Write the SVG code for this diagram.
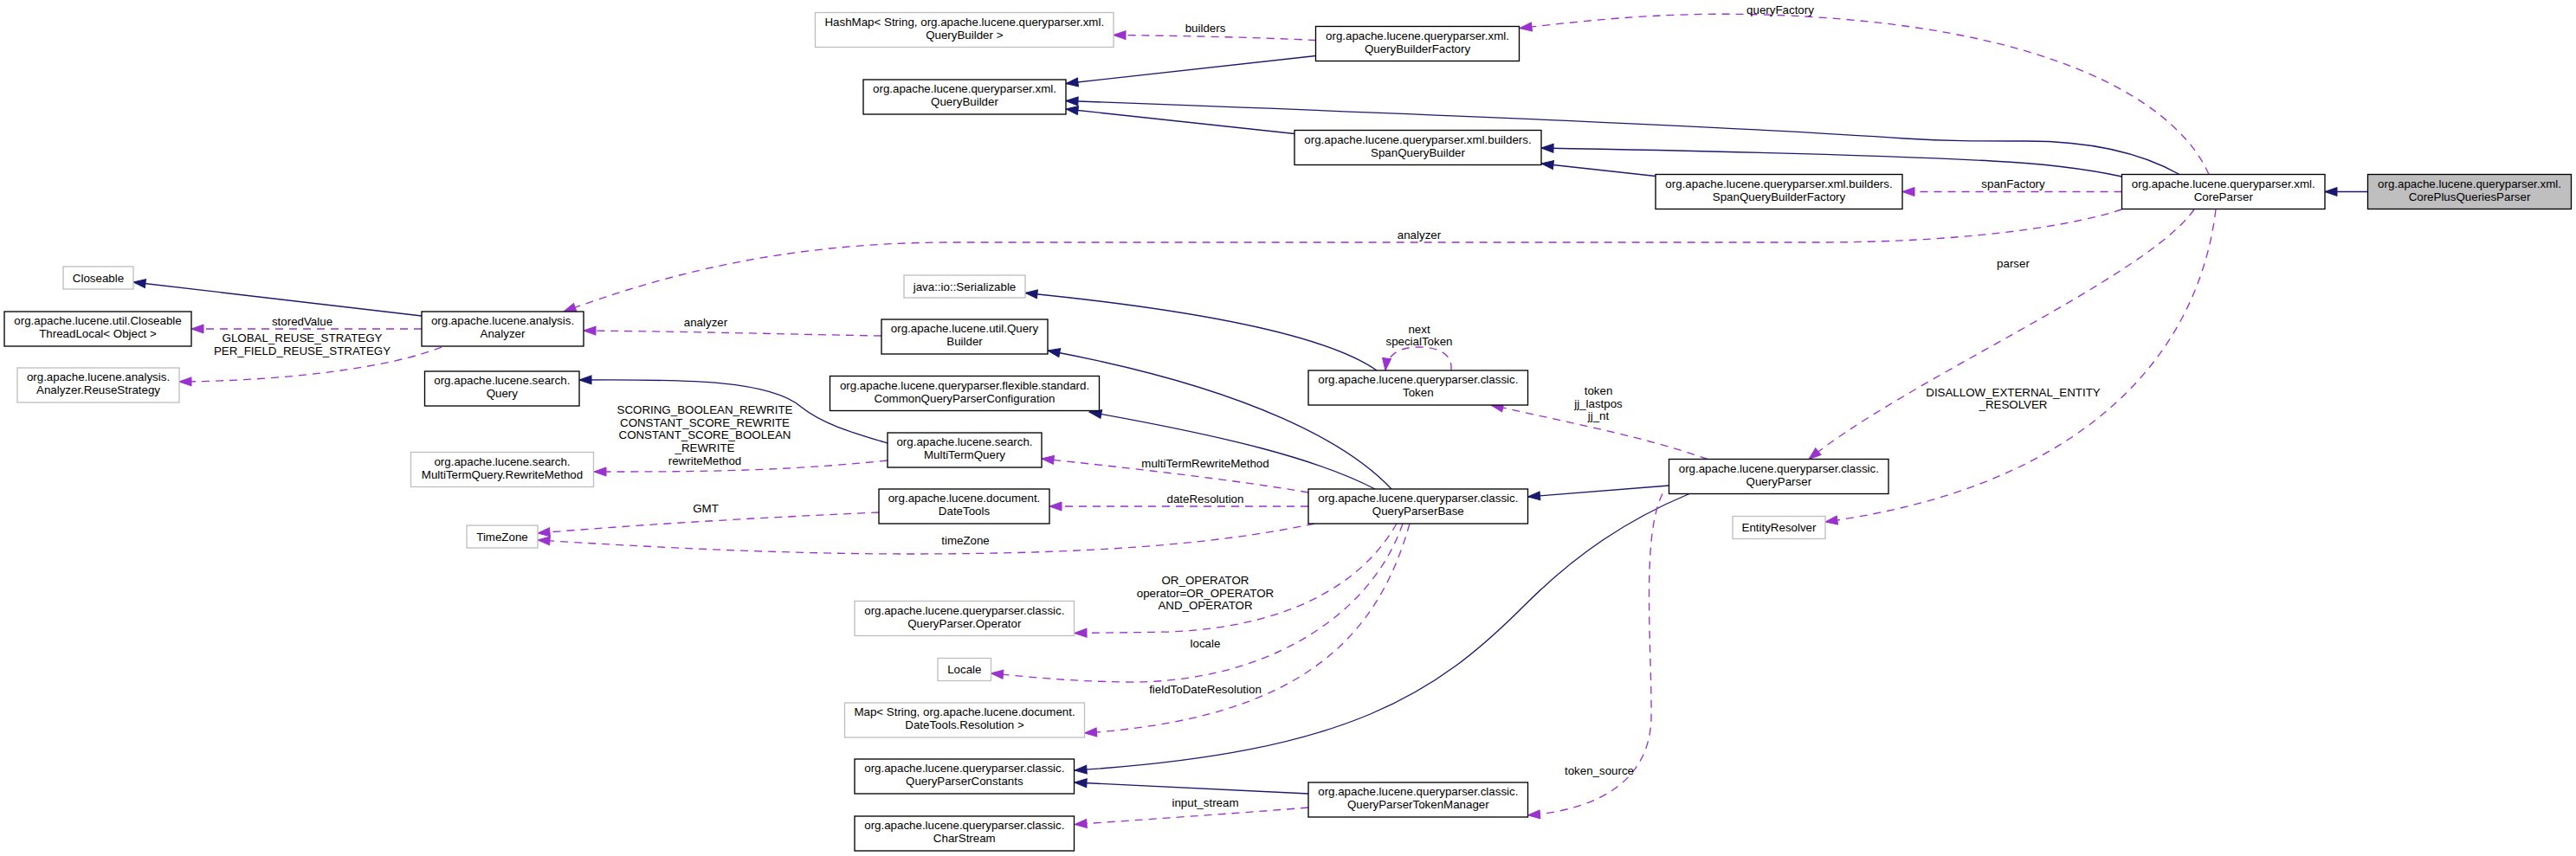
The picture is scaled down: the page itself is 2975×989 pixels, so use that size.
<svg xmlns="http://www.w3.org/2000/svg" width="2975" height="989" viewBox="0 0 2975 989">
<style>
text{font-family:"Liberation Sans",Arial,Helvetica,sans-serif;font-size:13.33px;fill:#000;text-anchor:middle}
.n rect{fill:#fff;stroke:#000;stroke-width:1.33}
.n.g rect{stroke:#bfbfbf}
.n.h rect{fill:#bfbfbf}
.e path{fill:none;stroke-width:1.33}
.i{stroke:#191970;marker-end:url(#ai)}
.u{stroke:#9a32cd;stroke-dasharray:9,7;marker-end:url(#au)}
</style>
<defs>
<marker id="ai" markerUnits="userSpaceOnUse" markerWidth="16" markerHeight="12" viewBox="-1 -1 16 12" refX="14" refY="5" orient="auto"><polygon points="0,0 14,5 0,10" fill="#191970" stroke="#191970" stroke-width="1"/></marker>
<marker id="au" markerUnits="userSpaceOnUse" markerWidth="16" markerHeight="12" viewBox="-1 -1 16 12" refX="14" refY="5" orient="auto"><polygon points="0,0 14,5 0,10" fill="#9a32cd" stroke="#9a32cd" stroke-width="1"/></marker>
</defs>
<rect width="2975" height="989" fill="#fff"/>
<g id="edges" class="e">
<path class="i" d="M2734,221.5 L2685,221.5"/>
<path class="i" d="M2517,201.5 C2470,175 2410,163 2340,163 C2280,163 2250,163 2200,160 C2000,146 1600,130 1231,116.5"/>
<path class="i" d="M2450.5,204 C2400,193 2340,188 2300,186 C2150,178 1950,174 1780,171"/>
<path class="i" d="M1912,203.5 L1780,189"/>
<path class="i" d="M1495,154.5 L1231,126"/>
<path class="i" d="M1519.5,64.5 L1231,96.5"/>
<path class="i" d="M487,365 L154,326"/>
<path class="i" d="M1590,428 C1550,400 1450,365 1184,338.5"/>
<path class="i" d="M1607,565 C1560,515 1450,450 1210,405"/>
<path class="i" d="M1588,565 C1520,530 1420,505 1258,476"/>
<path class="i" d="M1025,512 C985,500 950,490 925,470 C890,440 800,438 669,439"/>
<path class="i" d="M1927.5,561 L1764.5,574"/>
<path class="i" d="M1951,570.5 C1880,600 1820,640 1760,700 C1660,800 1560,870 1241,890"/>
<path class="i" d="M1511,917 L1241,904"/>
<path class="u" d="M1519.5,46.5 C1450,43 1350,41 1286,40.5"/>
<path class="u" d="M2551,201.5 C2520,130 2400,40 2100,20 C1950,10 1850,22 1755,32.5"/>
<path class="u" d="M2450.5,221.5 L2197,221.5"/>
<path class="u" d="M2450.5,242 C2380,265 2250,280 2100,280 L1100,280 C900,280 760,320 651,360"/>
<path class="u" d="M1018,388 C900,386 800,383 674,382"/>
<path class="u" d="M487,380 L221,380"/>
<path class="u" d="M510,401 C450,425 330,440 207,441"/>
<path class="u" d="M1676,428 C1678,408 1660,401 1638,401 C1615,401 1602,410 1600,428"/>
<path class="u" d="M1972,530.5 C1900,505 1820,490 1722,468"/>
<path class="u" d="M2534,242 C2480,320 2200,440 2089,530.5"/>
<path class="u" d="M2559,242 C2540,400 2420,560 2108,603"/>
<path class="u" d="M1920,570.5 C1895,620 1908,750 1907,830 C1905,900 1850,935 1764.5,942"/>
<path class="u" d="M1511,569 C1430,555 1300,540 1203,530"/>
<path class="u" d="M1511,585 L1212,585"/>
<path class="u" d="M1518,605 C1400,630 1250,640 1050,640 C900,640 750,632 621,624"/>
<path class="u" d="M1015,592 C900,597 750,605 621,616"/>
<path class="u" d="M1025,532 C900,545 800,545 686,545"/>
<path class="u" d="M1613,605 C1570,680 1480,725 1350,730 C1300,731 1270,731 1241,731.5"/>
<path class="u" d="M1620,605 C1580,720 1450,790 1300,788 C1230,787 1190,782 1144.5,778"/>
<path class="u" d="M1628,605 C1590,740 1500,830 1252.5,847"/>
<path class="u" d="M1511,933 C1450,938 1350,945 1241,952.5"/>
<text x="1392" y="37">builders</text>
<text x="2056" y="16">queryFactory</text>
<text x="2325" y="217">spanFactory</text>
<text x="1639" y="276">analyzer</text>
<text x="2325" y="309">parser</text>
<text x="2325" y="458">DISALLOW_EXTERNAL_ENTITY</text>
<text x="2325" y="472">_RESOLVER</text>
<text x="349" y="376">storedValue</text>
<text x="349" y="395">GLOBAL_REUSE_STRATEGY</text>
<text x="349" y="410">PER_FIELD_REUSE_STRATEGY</text>
<text x="815" y="377">analyzer</text>
<text x="1639" y="385">next</text>
<text x="1639" y="399">specialToken</text>
<text x="1846" y="456">token</text>
<text x="1846" y="471">jj_lastpos</text>
<text x="1846" y="485">jj_nt</text>
<text x="814" y="478">SCORING_BOOLEAN_REWRITE</text>
<text x="814" y="492.7">CONSTANT_SCORE_REWRITE</text>
<text x="814" y="507.3">CONSTANT_SCORE_BOOLEAN</text>
<text x="814" y="522">_REWRITE</text>
<text x="814" y="536.7">rewriteMethod</text>
<text x="1392" y="540">multiTermRewriteMethod</text>
<text x="1392" y="580.7">dateResolution</text>
<text x="815" y="592">GMT</text>
<text x="1115" y="629">timeZone</text>
<text x="1392" y="675">OR_OPERATOR</text>
<text x="1392" y="689.7">operator=OR_OPERATOR</text>
<text x="1392" y="704.3">AND_OPERATOR</text>
<text x="1392" y="748">locale</text>
<text x="1392" y="801">fieldToDateResolution</text>
<text x="1847" y="895">token_source</text>
<text x="1392" y="932">input_stream</text>
</g>
<g id="n_corePlusQueriesParser" class="n h"><rect x="2734.5" y="201.5" width="235" height="40"/><text x="2852" y="216.5">org.apache.lucene.queryparser.xml.</text><text x="2852" y="231.5">CorePlusQueriesParser</text></g>
<g id="n_coreParser" class="n"><rect x="2450.5" y="201.5" width="234.5" height="40"/><text x="2567.8" y="216.5">org.apache.lucene.queryparser.xml.</text><text x="2567.8" y="231.5">CoreParser</text></g>
<g id="n_queryBuilderFactory" class="n"><rect x="1519.5" y="30.5" width="235" height="40"/><text x="1637" y="45.5">org.apache.lucene.queryparser.xml.</text><text x="1637" y="60.5">QueryBuilderFactory</text></g>
<g id="n_hashMap" class="n g"><rect x="941.5" y="14.5" width="344.5" height="40"/><text x="1113.8" y="29.5">HashMap&lt; String, org.apache.lucene.queryparser.xml.</text><text x="1113.8" y="44.5">QueryBuilder &gt;</text></g>
<g id="n_queryBuilder" class="n"><rect x="997" y="92" width="234" height="40"/><text x="1114" y="107">org.apache.lucene.queryparser.xml.</text><text x="1114" y="122">QueryBuilder</text></g>
<g id="n_spanQueryBuilder" class="n"><rect x="1495" y="150.5" width="285" height="40"/><text x="1637.5" y="165.5">org.apache.lucene.queryparser.xml.builders.</text><text x="1637.5" y="180.5">SpanQueryBuilder</text></g>
<g id="n_spanQueryBuilderFactory" class="n"><rect x="1912" y="201.5" width="285" height="40"/><text x="2054.5" y="216.5">org.apache.lucene.queryparser.xml.builders.</text><text x="2054.5" y="231.5">SpanQueryBuilderFactory</text></g>
<g id="n_analyzer" class="n"><rect x="487" y="360" width="187" height="40"/><text x="580.5" y="375">org.apache.lucene.analysis.</text><text x="580.5" y="390">Analyzer</text></g>
<g id="n_closeable" class="n g"><rect x="73" y="308" width="81" height="26"/><text x="113.5" y="325.5">Closeable</text></g>
<g id="n_closeableThreadLocal" class="n"><rect x="5" y="360" width="216" height="40"/><text x="113" y="375">org.apache.lucene.util.Closeable</text><text x="113" y="390">ThreadLocal&lt; Object &gt;</text></g>
<g id="n_reuseStrategy" class="n g"><rect x="20" y="425" width="187" height="40"/><text x="113.5" y="440">org.apache.lucene.analysis.</text><text x="113.5" y="455">Analyzer.ReuseStrategy</text></g>
<g id="n_searchQuery" class="n"><rect x="490.5" y="429" width="178.5" height="40"/><text x="579.8" y="444">org.apache.lucene.search.</text><text x="579.8" y="459">Query</text></g>
<g id="n_serializable" class="n g"><rect x="1044" y="318" width="140" height="26"/><text x="1114" y="335.5">java::io::Serializable</text></g>
<g id="n_utilQueryBuilder" class="n"><rect x="1018" y="369" width="192" height="40"/><text x="1114" y="384">org.apache.lucene.util.Query</text><text x="1114" y="399">Builder</text></g>
<g id="n_commonQPConfig" class="n"><rect x="958.5" y="434.5" width="311" height="40"/><text x="1114" y="449.5">org.apache.lucene.queryparser.flexible.standard.</text><text x="1114" y="464.5">CommonQueryParserConfiguration</text></g>
<g id="n_token" class="n"><rect x="1511" y="428" width="253.5" height="40"/><text x="1637.8" y="443">org.apache.lucene.queryparser.classic.</text><text x="1637.8" y="458">Token</text></g>
<g id="n_multiTermQuery" class="n"><rect x="1025" y="500" width="178" height="40"/><text x="1114" y="515">org.apache.lucene.search.</text><text x="1114" y="530">MultiTermQuery</text></g>
<g id="n_rewriteMethod" class="n g"><rect x="474.5" y="522.5" width="211" height="40"/><text x="580" y="537.5">org.apache.lucene.search.</text><text x="580" y="552.5">MultiTermQuery.RewriteMethod</text></g>
<g id="n_dateTools" class="n"><rect x="1015" y="565" width="197" height="40"/><text x="1113.5" y="580">org.apache.lucene.document.</text><text x="1113.5" y="595">DateTools</text></g>
<g id="n_queryParserBase" class="n"><rect x="1511" y="565" width="253.5" height="40"/><text x="1637.8" y="580">org.apache.lucene.queryparser.classic.</text><text x="1637.8" y="595">QueryParserBase</text></g>
<g id="n_timeZone" class="n g"><rect x="539" y="607" width="82" height="26"/><text x="580" y="624.5">TimeZone</text></g>
<g id="n_queryParser" class="n"><rect x="1927.5" y="530.5" width="253.5" height="40"/><text x="2054.3" y="545.5">org.apache.lucene.queryparser.classic.</text><text x="2054.3" y="560.5">QueryParser</text></g>
<g id="n_entityResolver" class="n g"><rect x="2001" y="596.5" width="107" height="26"/><text x="2054.5" y="614">EntityResolver</text></g>
<g id="n_operator" class="n g"><rect x="987" y="694.5" width="253.5" height="40"/><text x="1113.8" y="709.5">org.apache.lucene.queryparser.classic.</text><text x="1113.8" y="724.5">QueryParser.Operator</text></g>
<g id="n_locale" class="n g"><rect x="1083" y="760.5" width="61.5" height="26"/><text x="1113.8" y="778">Locale</text></g>
<g id="n_map" class="n g"><rect x="975.5" y="812" width="277" height="40"/><text x="1114" y="827">Map&lt; String, org.apache.lucene.document.</text><text x="1114" y="842">DateTools.Resolution &gt;</text></g>
<g id="n_queryParserConstants" class="n"><rect x="987" y="877" width="253.5" height="40"/><text x="1113.8" y="892">org.apache.lucene.queryparser.classic.</text><text x="1113.8" y="907">QueryParserConstants</text></g>
<g id="n_queryParserTokenManager" class="n"><rect x="1511" y="904" width="253.5" height="40"/><text x="1637.8" y="919">org.apache.lucene.queryparser.classic.</text><text x="1637.8" y="934">QueryParserTokenManager</text></g>
<g id="n_charStream" class="n"><rect x="987" y="943" width="253.5" height="40"/><text x="1113.8" y="958">org.apache.lucene.queryparser.classic.</text><text x="1113.8" y="973">CharStream</text></g>
</svg>
